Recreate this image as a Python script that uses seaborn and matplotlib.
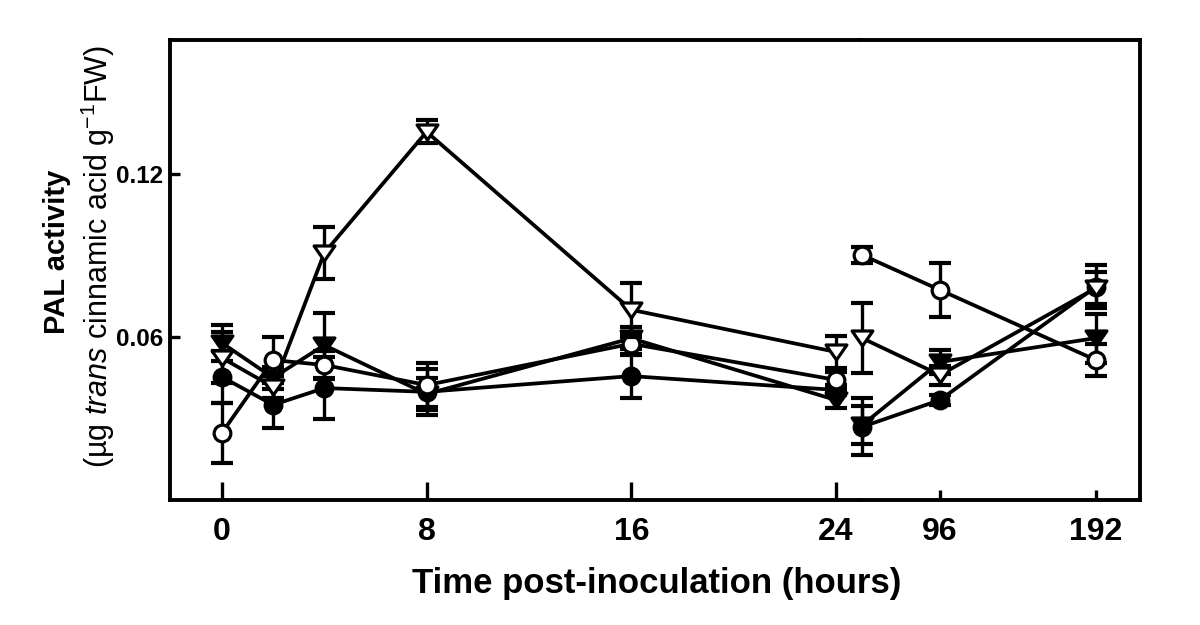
import matplotlib
matplotlib.use("Agg")
import matplotlib.pyplot as plt
from matplotlib.path import Path
import numpy as np
import pandas as pd
import seaborn as sns

# ---------------- data ----------------
hours = [0, 2, 4, 8, 16, 24, 48, 96, 192]
early_ticks = [0, 8, 16, 24]
late_ticks = [96, 192]
y_ticks = [0.06, 0.12]
y_tick_labels = ["0.06", "0.12"]

open_circle = [0.0247, 0.0515, 0.0497, 0.0423, 0.0575, 0.0442, 0.0902, 0.0773, 0.0515]
open_circle_err = [0.0110, 0.0085, 0.0050, 0.0080, 0.0040, 0.0030, 0.0030, 0.0098, 0.0060]

filled_circle = [0.0453, 0.0350, 0.0412, 0.0398, 0.0456, 0.0405, 0.0269, 0.0368, 0.0785]
filled_circle_err = [0.0096, 0.0085, 0.0114, 0.0085, 0.0081, 0.0020, 0.0105, 0.0020, 0.0080]

filled_triangle = [0.0578, 0.0450, 0.0570, 0.0390, 0.0595, 0.0368, 0.0275, 0.0508, 0.0596]
filled_triangle_err = [0.0066, 0.0040, 0.0120, 0.0058, 0.0040, 0.0030, 0.0070, 0.0045, 0.0090]

open_triangle = [0.0523, 0.0416, 0.0909, 0.1355, 0.0700, 0.0545, 0.0596, 0.0460, 0.0780]
open_triangle_err = [0.0094, 0.0040, 0.0094, 0.0042, 0.0099, 0.0060, 0.0130, 0.0035, 0.0060]

x_label = "Time post-inoculation (hours)"
y_label_1 = "PAL activity"
y_label_2 = r"(µg $\mathit{trans}$ cinnamic acid g$^{-1}$FW)"

# ---------------- style ----------------
sns.set_theme(style="white")
plt.rcParams["font.family"] = ["Liberation Sans", "DejaVu Sans"]
plt.rcParams["mathtext.fontset"] = "custom"
plt.rcParams["mathtext.rm"] = "Liberation Sans"
plt.rcParams["mathtext.it"] = "Liberation Sans:italic"
plt.rcParams["mathtext.bf"] = "Liberation Sans:bold"
for key in ("text.color", "axes.labelcolor", "xtick.color", "ytick.color",
            "axes.edgecolor"):
    plt.rcParams[key] = "black"

tri_down = Path([(-1, 0.72), (1, 0.72), (0, -0.72), (-1, 0.72)],
                [Path.MOVETO, Path.LINETO, Path.LINETO, Path.CLOSEPOLY])

series = [
    (filled_circle, filled_circle_err, "o", "black", 12),
    (filled_triangle, filled_triangle_err, tri_down, "black", 15),
    (open_circle, open_circle_err, "o", "white", 12),
    (open_triangle, open_triangle_err, tri_down, "white", 15),
]

fig = plt.figure(figsize=(12, 6.25), dpi=100)
W, H = 1200, 625
axL = fig.add_axes([170 / W, 125 / H, 691 / W, 460 / H])
axR = fig.add_axes([861 / W, 125 / H, 279 / W, 460 / H], sharey=axL)

split = 6
for k, (vals, errs, mk, fc, ms) in enumerate(series):
    for ax, sl in ((axL, slice(0, split)), (axR, slice(split, None))):
        df = pd.DataFrame({"hours": hours[sl], "value": vals[sl], "err": errs[sl]})
        eb = ax.errorbar(df["hours"], df["value"], yerr=df["err"], fmt="none",
                         ecolor="black", elinewidth=2.4, capsize=8, capthick=3.0,
                         zorder=2 + 2 * k)
        for art in eb.get_children():
            art.set_clip_on(False)
        n_before = len(ax.lines)
        sns.lineplot(data=df, x="hours", y="value", ax=ax, color="black",
                     linewidth=2.7, marker=mk, markersize=ms,
                     markerfacecolor=fc, markeredgecolor="black",
                     markeredgewidth=2.3, legend=False, zorder=3 + 2 * k,
                     errorbar=None)
        for ln in ax.lines[n_before:]:
            ln.set_clip_on(False)

for ax in (axL, axR):
    ax.set_ylim(0, 0.1693)
    ax.set_xlabel("")
    ax.set_ylabel("")
    for s in ax.spines.values():
        s.set_linewidth(2.8)
        s.set_color("black")
        s.set_zorder(20)

axL.set_xlim(-2.03, 24.98)
axR.set_xlim(47.4, 219.1)
axL.spines["right"].set_visible(False)
axR.spines["left"].set_visible(False)

axL.set_xticks(early_ticks)
axL.set_xticklabels([str(t) for t in early_ticks])
axR.set_xticks(late_ticks)
axR.set_xticklabels([str(t) for t in late_ticks])
axL.set_yticks(y_ticks)
axL.set_yticklabels(y_tick_labels)

axL.tick_params(axis="x", direction="in", length=13, width=2.4, pad=12,
                labelsize=23, bottom=True, colors="black")
axR.tick_params(axis="x", direction="in", length=7, width=2.4, pad=12,
                labelsize=23, bottom=True, colors="black")
axL.tick_params(axis="y", direction="in", length=7, width=2.4, pad=5,
                labelsize=17.5, left=True, colors="black")
axR.tick_params(axis="y", left=False, labelleft=False)
for ax in (axL, axR):
    for lbl in ax.get_xticklabels() + ax.get_yticklabels():
        lbl.set_fontweight("bold")

fig.text(657 / W, 1 - 584 / H, x_label, ha="center", va="center",
         fontsize=25, fontweight="bold", color="black")
fig.text(57 / W, 1 - 251.5 / H, y_label_1, rotation=90, ha="center",
         va="center", fontsize=21, fontweight="bold", color="black")
fig.text(98 / W, 1 - 256.5 / H, y_label_2, rotation=90, ha="center",
         va="center", fontsize=22, fontweight="normal", color="black")

fig.savefig("out.png", dpi=100, facecolor="white")
